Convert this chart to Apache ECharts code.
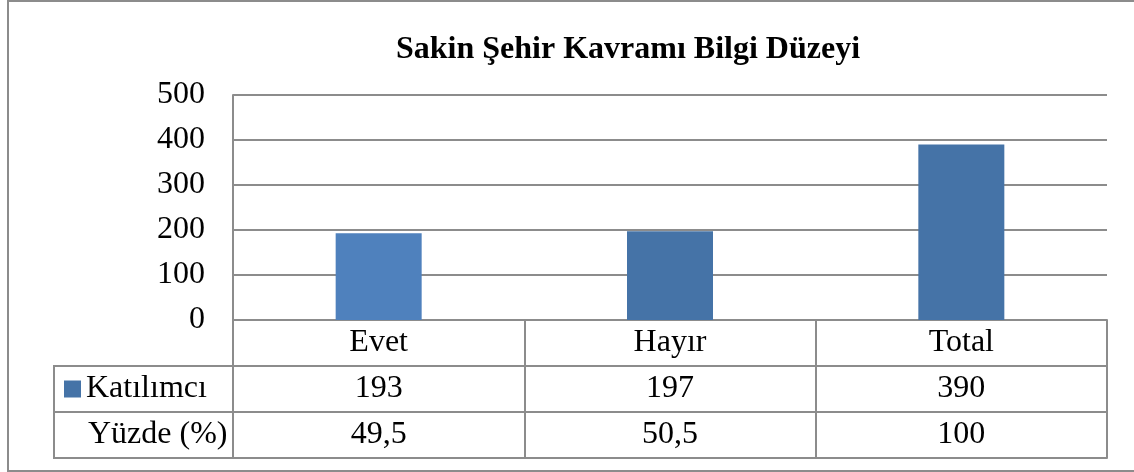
<!DOCTYPE html>
<html>
<head>
<meta charset="utf-8">
<script src="https://cdn.jsdelivr.net/npm/echarts@6/dist/echarts.min.js"></script>
<style>
    html, body { margin: 0; padding: 0; background: #fff; }
    #chart { width: 1134px; height: 472px; }
</style>
</head>
<body>
<div id="chart"></div>
<script>
    // veriler
    var categories = ['Evet', 'Hayır', 'Total'];
    var katilimci = [193, 197, 390];
    var yuzde = [49.5, 50.5, 100];
    var yTicks = { min: 0, max: 500, interval: 100 };

    var barColors = ['#4F81BD', '#4573A7', '#4573A7'];
    var lineColor = '#8c8c8c';
    var serif = '"Liberation Serif", "Times New Roman", serif';
    var labelSize = 32;

    var chart = echarts.init(document.getElementById('chart'));

    // tablo satirlari: her satir ayri bir x ekseni (offset ile asagi kaydirildi)
    function tableAxis(data, offset, showLabel) {
        return {
            type: 'category',
            position: 'bottom',
            offset: offset,
            data: data,
            axisLine: { show: true, lineStyle: { color: lineColor, width: 2 } },
            axisTick: { show: showLabel, length: 46, interval: 0, lineStyle: { color: lineColor, width: 2 } },
            axisLabel: {
                show: showLabel,
                interval: 0,
                margin: 23,
                verticalAlign: 'middle',
                color: '#000',
                fontFamily: serif,
                fontSize: labelSize
            },
            splitLine: { show: false }
        };
    }

    var option = {
        animation: false,
        title: {
            text: 'Sakin Şehir Kavramı Bilgi Düzeyi',
            left: 628,
            top: 34,
            padding: 0,
            textAlign: 'center',
            textStyle: { fontFamily: serif, fontSize: 32, fontWeight: 'bold', color: '#000' }
        },
        legend: {
            data: ['Katılımcı'],
            left: 64,
            top: 373,
            padding: 0,
            icon: 'rect',
            itemWidth: 17,
            itemHeight: 17,
            itemGap: 5,
            textStyle: { fontFamily: serif, fontSize: labelSize, color: '#000' }
        },
        grid: {
            left: 233,
            right: 27,
            top: 95,
            bottom: 152,
            outerBoundsMode: 'none'
        },
        xAxis: [
            tableAxis(categories, 0, true),
            tableAxis(katilimci.map(String), 46, true),
            tableAxis(yuzde.map(function (v) { return String(v).replace('.', ','); }), 92, true),
            tableAxis(categories, 138, false)
        ],
        yAxis: {
            type: 'value',
            min: yTicks.min,
            max: yTicks.max,
            interval: yTicks.interval,
            axisLine: { show: true, lineStyle: { color: lineColor, width: 2 } },
            axisTick: { show: false },
            axisLabel: { margin: 28, color: '#000', fontFamily: serif, fontSize: labelSize },
            splitLine: { show: true, lineStyle: { color: lineColor, width: 2 } }
        },
        series: [
            {
                name: 'Katılımcı',
                type: 'bar',
                xAxisIndex: 0,
                barWidth: 86,
                itemStyle: { color: '#4573A7' },
                data: katilimci.map(function (v, i) {
                    return { value: v, itemStyle: { color: barColors[i] } };
                })
            }
        ],
        graphic: [
            // dis cerceve
            {
                type: 'rect',
                shape: { x: 8, y: 1, width: 1140, height: 470 },
                style: { fill: null, stroke: lineColor, lineWidth: 2 },
                silent: true
            },
            // sol baslik sutunu
            {
                type: 'rect',
                shape: { x: 54, y: 366, width: 179, height: 92 },
                style: { fill: null, stroke: lineColor, lineWidth: 2 },
                silent: true
            },
            {
                type: 'line',
                shape: { x1: 54, y1: 412, x2: 233, y2: 412 },
                style: { stroke: lineColor, lineWidth: 2 },
                silent: true
            },
            {
                type: 'text',
                x: 88,
                y: 435,
                style: {
                    text: 'Yüzde (%)',
                    fontFamily: serif,
                    fontSize: labelSize,
                    fill: '#000',
                    verticalAlign: 'middle'
                },
                silent: true
            }
        ]
    };

    chart.setOption(option);
</script>
</body>
</html>
